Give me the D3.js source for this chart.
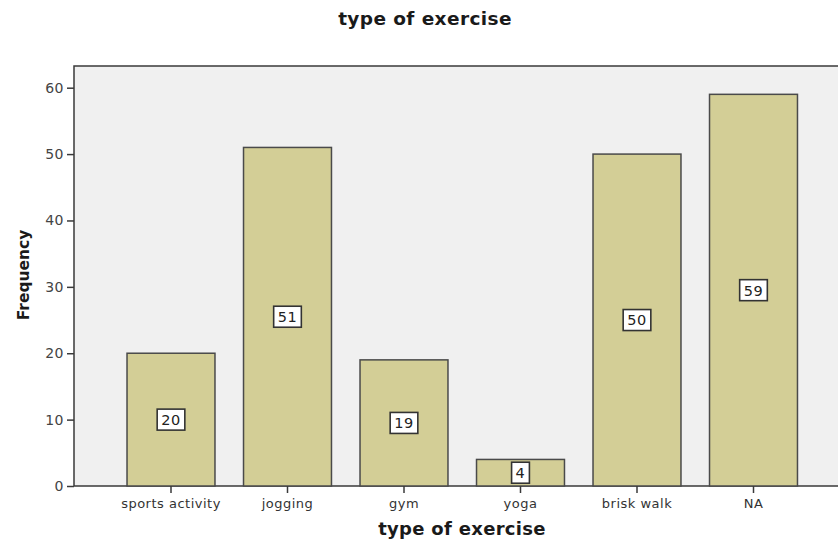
<!DOCTYPE html>
<html>
<head>
<meta charset="utf-8">
<script src="https://cdn.jsdelivr.net/npm/d3@7"></script>
<style>
  html, body { margin: 0; padding: 0; background: #fff; }
  svg { display: block; font-family: "DejaVu Sans", "Verdana", sans-serif; }
</style>
</head>
<body>
<svg id="chart" width="838" height="542"></svg>
<script>
// Counts per type of exercise
const categories = ["sports activity", "jogging", "gym", "yoga", "brisk walk", "NA"];
const frequencies = [20, 51, 19, 4, 50, 59];
const yTicks = [0, 10, 20, 30, 40, 50, 60];

const svg = d3.select("#chart");

// Plot frame (runs past the right edge of the canvas)
const frame = { left: 74, top: 66, right: 845, bottom: 486 };

const y = d3.scaleLinear().domain([0, 60]).range([486, 87.7]);
const x = d3.scaleBand()
  .domain(categories)
  .range([112.75, 811.75])
  .paddingInner(0.245)
  .paddingOuter(0.1225);

// Frame background
svg.append("rect")
  .attr("x", frame.left).attr("y", frame.top)
  .attr("width", frame.right - frame.left)
  .attr("height", frame.bottom - frame.top)
  .attr("fill", "#f0f0f0")
  .attr("stroke", "#3a3a3a")
  .attr("stroke-width", 1.5);

const rows = categories.map((c, i) => ({ c, v: frequencies[i] }));

// Bars
svg.append("g").selectAll("rect")
  .data(rows)
  .join("rect")
  .attr("x", d => x(d.c))
  .attr("y", d => y(d.v))
  .attr("width", x.bandwidth())
  .attr("height", d => y(0) - y(d.v))
  .attr("fill", "#d3ce96")
  .attr("stroke", "#4a4a4a")
  .attr("stroke-width", 1.5);

// Value labels in white boxes at bar mid-height
const labels = svg.append("g").selectAll("g")
  .data(rows)
  .join("g")
  .attr("transform", d => `translate(${x(d.c) + x.bandwidth() / 2},${y(d.v / 2)})`);

labels.append("text")
  .attr("text-anchor", "middle")
  .attr("dy", "0.37em")
  .attr("font-size", 14.5)
  .attr("letter-spacing", 0.6)
  .attr("fill", "#222")
  .text(d => d.v)
  .each(function () {
    const bb = this.getBBox();
    d3.select(this.parentNode).insert("rect", "text")
      .attr("x", bb.x - 4).attr("y", -10.5)
      .attr("width", bb.width + 8).attr("height", 21)
      .attr("fill", "#fff")
      .attr("stroke", "#333")
      .attr("stroke-width", 1.6);
  });

// Y axis
const yAxis = svg.append("g")
  .attr("transform", `translate(${frame.left},0)`)
  .call(d3.axisLeft(y).tickValues(yTicks).tickSize(7).tickPadding(3));
yAxis.select(".domain").remove();
yAxis.selectAll(".tick line").attr("stroke", "#3a3a3a").attr("stroke-width", 1.5);
yAxis.selectAll(".tick text")
  .attr("font-size", 14).attr("fill", "#444")
  .attr("letter-spacing", 0.5)
  .attr("font-family", "DejaVu Sans, sans-serif");

// X axis
const xAxis = svg.append("g")
  .attr("transform", `translate(0,${frame.bottom})`)
  .call(d3.axisBottom(x).tickSize(7).tickPadding(6));
xAxis.select(".domain").remove();
xAxis.selectAll(".tick line").attr("stroke", "#3a3a3a").attr("stroke-width", 1.5);
xAxis.selectAll(".tick text")
  .attr("font-size", 13).attr("fill", "#333")
  .attr("letter-spacing", 0.5)
  .attr("font-family", "DejaVu Sans, sans-serif");

// Titles
svg.append("text")
  .attr("x", 425).attr("y", 25)
  .attr("text-anchor", "middle")
  .attr("font-size", 18.5).attr("font-weight", "bold").attr("fill", "#1a1a1a")
  .attr("letter-spacing", 0.4)
  .text("type of exercise");

svg.append("text")
  .attr("x", 462).attr("y", 535)
  .attr("text-anchor", "middle")
  .attr("font-size", 18).attr("font-weight", "bold").attr("fill", "#1a1a1a")
  .attr("letter-spacing", 0.3)
  .text("type of exercise");

svg.append("text")
  .attr("transform", "translate(29,275) rotate(-90)")
  .attr("text-anchor", "middle")
  .attr("font-size", 15.5).attr("font-weight", "bold").attr("fill", "#1a1a1a")
  .text("Frequency");
</script>
</body>
</html>
